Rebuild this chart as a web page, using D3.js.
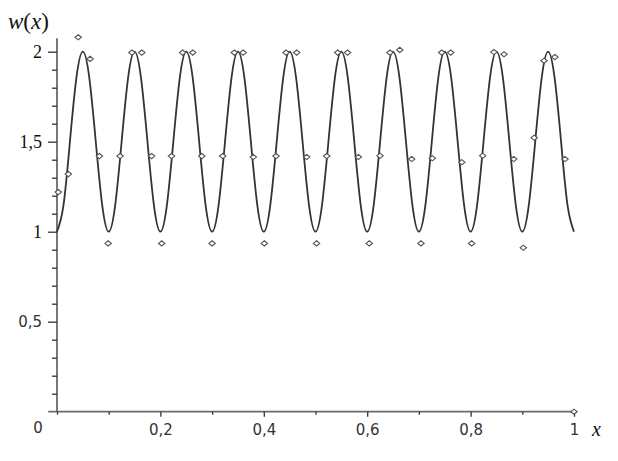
<!DOCTYPE html>
<html>
<head>
<meta charset="utf-8">
<script src="https://cdn.jsdelivr.net/npm/d3@7"></script>
<style>
body { margin: 0; background: #fff; }
</style>
</head>
<body>
<script>
// dimensions
var width = 618;
var height = 461;

// curve values, x step 0.0125 from 0 to 1
var curveStep = 0.0125;
var curveY = [
    1, 1.146, 1.5, 1.854, 2, 1.854, 1.5, 1.146,
    1, 1.146, 1.5, 1.854, 2, 1.854, 1.5, 1.146,
    1, 1.146, 1.5, 1.854, 2, 1.854, 1.5, 1.146,
    1, 1.146, 1.5, 1.854, 2, 1.854, 1.5, 1.146,
    1, 1.146, 1.5, 1.854, 2, 1.854, 1.5, 1.146,
    1, 1.146, 1.5, 1.854, 2, 1.854, 1.5, 1.146,
    1, 1.146, 1.5, 1.854, 2, 1.854, 1.5, 1.146,
    1, 1.146, 1.5, 1.854, 2, 1.854, 1.5, 1.146,
    1, 1.146, 1.5, 1.854, 2, 1.854, 1.5, 1.146,
    1, 1.146, 1.5, 1.854, 2, 1.854, 1.5, 1.146,
    1
];

// scattered sample points (diamonds)
var pointX = [0.0025, 0.022, 0.041, 0.064, 0.082, 0.099, 0.122, 0.145, 0.164, 0.183,
    0.2025, 0.2215, 0.243, 0.2625, 0.28, 0.30, 0.3205, 0.343, 0.360, 0.3797,
    0.401, 0.4236, 0.443, 0.4636, 0.483, 0.502, 0.5217, 0.543, 0.562, 0.583,
    0.604, 0.6248, 0.644, 0.663, 0.686, 0.704, 0.726, 0.744, 0.7615, 0.783,
    0.802, 0.8234, 0.845, 0.8646, 0.8835, 0.902, 0.923, 0.942, 0.963, 0.9826, 1.0];
var pointY = [1.22, 1.32, 2.08, 1.96, 1.42, 0.935, 1.42, 1.995, 1.995, 1.42,
    0.935, 1.42, 1.995, 1.995, 1.42, 0.935, 1.42, 1.995, 1.995, 1.415,
    0.935, 1.42, 1.995, 1.995, 1.415, 0.935, 1.42, 1.995, 1.995, 1.415,
    0.935, 1.422, 1.995, 2.01, 1.404, 0.935, 1.408, 1.995, 1.995, 1.386,
    0.935, 1.422, 1.998, 1.986, 1.404, 0.911, 1.522, 1.95, 1.97, 1.404, 0];

// ticks
var xMajor = [0.2, 0.4, 0.6, 0.8, 1];
var xMajorLabels = ["0,2", "0,4", "0,6", "0,8", "1"];
var xMinor = [0, 0.1, 0.3, 0.5, 0.7, 0.9];
var yMajor = [0.5, 1, 1.5, 2];
var yMajorLabels = ["0,5", "1", "1,5", "2"];
var yMinor = [0.1, 0.2, 0.3, 0.4, 0.6, 0.7, 0.8, 0.9, 1.1, 1.2, 1.3, 1.4, 1.6, 1.7, 1.8, 1.9];

var svg = d3.select("body")
    .append("svg")
    .attr("width", width)
    .attr("height", height);

var x = d3.scaleLinear().domain([0, 1]).range([57, 574]);
var y = d3.scaleLinear().domain([0, 2]).range([411.7, 51.7]);

var axisColor = "#6a6a6a";

// axis lines
svg.append("line")
    .attr("x1", x(-0.017)).attr("x2", x(1))
    .attr("y1", y(0)).attr("y2", y(0))
    .attr("stroke", axisColor).attr("stroke-width", 1.8);
svg.append("line")
    .attr("x1", x(0)).attr("x2", x(0))
    .attr("y1", y(0)).attr("y2", y(2.075))
    .attr("stroke", axisColor).attr("stroke-width", 1.8);

// x ticks
var xAxisMajor = svg.append("g")
    .attr("transform", "translate(0," + y(0) + ")")
    .call(d3.axisBottom(x).tickValues(xMajor).tickSize(5).tickPadding(8)
        .tickFormat(function(d, i) { return xMajorLabels[i]; }));
var xAxisMinor = svg.append("g")
    .attr("transform", "translate(0," + y(0) + ")")
    .call(d3.axisBottom(x).tickValues(xMinor).tickSize(3).tickFormat(""));

// y ticks
var yAxisMajor = svg.append("g")
    .attr("transform", "translate(" + x(0) + ",0)")
    .call(d3.axisLeft(y).tickValues(yMajor).tickSize(9).tickPadding(6)
        .tickFormat(function(d, i) { return yMajorLabels[i]; }));
var yAxisMinor = svg.append("g")
    .attr("transform", "translate(" + x(0) + ",0)")
    .call(d3.axisLeft(y).tickValues(yMinor).tickSize(5).tickFormat(""));

svg.selectAll(".domain").remove();
svg.selectAll(".tick line").attr("stroke", "#333").attr("stroke-width", 1.3);
svg.selectAll(".tick text")
    .attr("fill", "#333")
    .style("font-family", "'DejaVu Sans', sans-serif")
    .style("font-size", "15px");

// the upper y labels look serif in the picture
yAxisMajor.selectAll(".tick text")
    .filter(function(d) { return d >= 1; })
    .style("font-family", "'Liberation Serif', serif")
    .style("font-size", "18px")
    .attr("fill", "#111");

// "0" at origin
svg.append("text")
    .attr("x", 38)
    .attr("y", 433)
    .attr("text-anchor", "middle")
    .attr("fill", "#333")
    .style("font-family", "'DejaVu Sans', sans-serif")
    .style("font-size", "15px")
    .text("0");

// curve
var line = d3.line()
    .x(function(d, i) { return x(i * curveStep); })
    .y(function(d) { return y(d); })
    .curve(d3.curveNatural);

svg.append("path")
    .datum(curveY)
    .attr("d", line)
    .attr("fill", "none")
    .attr("stroke", "#333")
    .attr("stroke-width", 1.8);

// diamonds
svg.selectAll(".pt")
    .data(pointX)
    .enter()
    .append("path")
    .attr("class", "pt")
    .attr("d", "M0,-2.6L3.2,0L0,2.6L-3.2,0Z")
    .attr("transform", function(d, i) {
        return "translate(" + x(d) + "," + y(pointY[i]) + ")";
    })
    .attr("fill", "#fff")
    .attr("stroke", "#555")
    .attr("stroke-width", 1.1);

// axis titles
var yTitle = svg.append("text")
    .attr("x", 8)
    .attr("y", 29)
    .style("font-family", "'Liberation Serif', serif")
    .style("font-size", "23px")
    .attr("fill", "#111");
yTitle.append("tspan").style("font-style", "italic").text("w");
yTitle.append("tspan").text("(");
yTitle.append("tspan").style("font-style", "italic").text("x");
yTitle.append("tspan").text(")");

svg.append("text")
    .attr("x", 592)
    .attr("y", 436)
    .style("font-family", "'Liberation Serif', serif")
    .style("font-style", "italic")
    .style("font-size", "20px")
    .attr("fill", "#111")
    .text("x");
</script>
</body>
</html>
